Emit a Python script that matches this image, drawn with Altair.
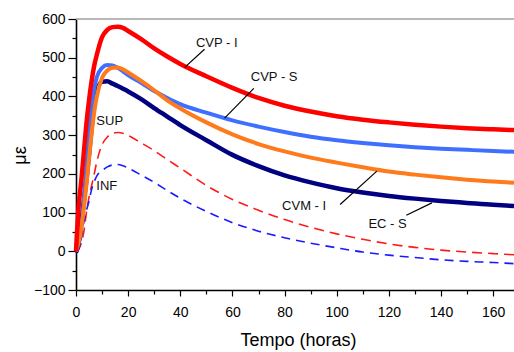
import altair as alt
import pandas as pd

# ---- data ----
hours = [0, 1, 2, 3, 4, 5, 6, 7, 8, 10, 12, 14, 16, 18, 20, 25, 30, 35, 40,
         50, 60, 70, 80, 90, 100, 110, 120, 130, 140, 150, 160, 168]

cvp_i = [0, 115, 180, 255, 330, 390, 440, 480, 508, 553, 572, 579, 580, 577, 569,
         548, 524, 503, 484, 452, 422, 396, 376, 361, 349, 340, 333, 327, 322, 318, 315, 313]
cvp_s = [0, 20, 60, 130, 220, 300, 370, 420, 450, 474, 481, 480, 474, 465, 455,
         435, 414, 396, 380, 358, 338, 322, 308, 296, 287, 280, 274, 269, 265, 262, 259, 257]
cvm_i = [0, 25, 60, 110, 170, 240, 305, 360, 400, 448, 467, 474, 475, 470, 462,
         440, 416, 390, 369, 333, 302, 277, 258, 242, 229, 217, 206, 198, 191, 185, 180, 177]
ec_s = [-3, 20, 70, 130, 185, 250, 320, 380, 415, 438, 439, 433, 427, 420, 413,
        393, 370, 348, 326, 287, 249, 220, 196, 178, 163, 152, 143, 136, 130, 125, 120, 117]
sup = [0, 5, 20, 50, 100, 140, 170, 200, 232, 275, 295, 304, 307, 305, 299,
       280, 260, 237, 215, 170, 134, 106, 82, 62, 45, 31, 19, 10, 3, -2, -6, -9]
inf = [-5, 10, 35, 75, 105, 130, 160, 180, 195, 208, 218, 223, 224, 221, 215,
       197, 178, 157, 137, 103, 74, 52, 35, 21, 9, -2, -10, -16, -22, -26, -29, -32]

series_names = ["SUP", "INF", "EC - S", "CVP - S", "CVM - I", "CVP - I"]
series_values = [sup, inf, ec_s, cvp_s, cvm_i, cvp_i]

# annotations (labels and leader lines)
label_text = ["CVP - I", "CVP - S", "CVM - I", "EC - S", "SUP", "INF"]
label_x = [54.0, 76.0, 87.5, 119.5, 7.8, 7.8]
label_y = [537, 450, 116, 70, 336, 169]
label_align = ["center", "center", "center", "center", "left", "left"]

leader_x = [49.3, 68.2, 101.3, 126.7]
leader_y = [522, 421, 121, 93]
leader_x2 = [41.7, 57.0, 115.4, 136.5]
leader_y2 = [475, 344, 207, 125]

x_major = [0, 20, 40, 60, 80, 100, 120, 140, 160]
x_minor = [10, 30, 50, 70, 90, 110, 130, 150]
y_major = [-100, 0, 100, 200, 300, 400, 500, 600]
y_minor = [-50, 50, 150, 250, 350, 450, 550]

# ---- styles ----
styles = {
    "SUP": dict(color="#ff1a1a", strokeWidth=1.6, strokeDash=[10, 6]),
    "INF": dict(color="#1a1aff", strokeWidth=1.6, strokeDash=[9, 6]),
    "EC - S": dict(color="#000080", strokeWidth=4.5),
    "CVP - S": dict(color="#3f6fff", strokeWidth=4),
    "CVM - I": dict(color="#ff7a1a", strokeWidth=4),
    "CVP - I": dict(color="#ff0000", strokeWidth=4.5),
}

FONT = "Liberation Sans"
xs = alt.Scale(domain=[0, 168], nice=False, zero=False)
ys = alt.Scale(domain=[-100, 600], nice=False, zero=False)

major_x_axis = alt.Axis(
    values=x_major, tickSize=6, labelPadding=9, labelFontSize=14, labelFont=FONT,
    labelColor="black", tickColor="black", domainColor="black", domainWidth=1.6,
    tickWidth=1.2, grid=False, title="Tempo (horas)", titleFont=FONT,
    titleFontSize=18, titleFontWeight="normal", titleColor="black",
    titleX=222, titleY=55, titleBaseline="alphabetic", orient="bottom",
    labelFlush=False, labelOverlap=False,
)
major_y_axis = alt.Axis(
    values=y_major, tickSize=8, labelPadding=3, labelFontSize=14, labelFont=FONT,
    labelColor="black", tickColor="black", domainColor="black", domainWidth=1.6,
    tickWidth=1.2, grid=False, title="με", titleFont=FONT, titleFontSize=18,
    titleFontWeight="normal", titleColor="black", titleAngle=270,
    titleX=-51, titleY=136, titleBaseline="alphabetic", orient="left",
    labelFlush=False, labelOverlap=False,
)
minor_x_axis = alt.Axis(values=x_minor, tickSize=4, labels=False, domain=False,
                        grid=False, title=None, tickColor="black", tickWidth=1.2,
                        orient="bottom")
minor_y_axis = alt.Axis(values=y_minor, tickSize=4, labels=False, domain=False,
                        grid=False, title=None, tickColor="black", tickWidth=1.2,
                        orient="left")

rows = []
for name, vals in zip(series_names, series_values):
    for h, v in zip(hours, vals):
        rows.append({"serie": name, "h": h, "v": v})
df = pd.DataFrame(rows)

line_layers = []
for i, name in enumerate(series_names):
    st = styles[name]
    mk = alt.Chart(df).transform_filter(alt.datum.serie == name).mark_line(
        interpolate="monotone", **st)
    if i == 0:
        enc = mk.encode(x=alt.X("h:Q", scale=xs, axis=major_x_axis),
                        y=alt.Y("v:Q", scale=ys, axis=major_y_axis))
    else:
        enc = mk.encode(x=alt.X("h:Q", scale=xs, axis=None),
                        y=alt.Y("v:Q", scale=ys, axis=None))
    line_layers.append(enc)

lab_df = pd.DataFrame({"t": label_text, "x": label_x, "y": label_y, "a": label_align})
text_center = alt.Chart(lab_df[lab_df.a == "center"]).mark_text(
    font=FONT, fontSize=13, color="#111111", align="center", baseline="middle"
).encode(x=alt.X("x:Q", scale=xs, axis=None), y=alt.Y("y:Q", scale=ys, axis=None), text="t:N")
text_left = alt.Chart(lab_df[lab_df.a == "left"]).mark_text(
    font=FONT, fontSize=13, color="#111111", align="left", baseline="middle"
).encode(x=alt.X("x:Q", scale=xs, axis=None), y=alt.Y("y:Q", scale=ys, axis=None), text="t:N")

lead_df = pd.DataFrame({"x": leader_x, "y": leader_y, "x2": leader_x2, "y2": leader_y2})
leaders = alt.Chart(lead_df).mark_rule(color="black", strokeWidth=1.2).encode(
    x=alt.X("x:Q", scale=xs, axis=None), y=alt.Y("y:Q", scale=ys, axis=None),
    x2="x2:Q", y2="y2:Q")

frame_df = pd.DataFrame({"x": [0], "x2": [168], "y": [600]})
top_rule = alt.Chart(frame_df).mark_rule(color="#a0a0a0", strokeWidth=1.5).encode(
    x=alt.X("x:Q", scale=xs, axis=minor_x_axis), x2="x2:Q",
    y=alt.Y("y:Q", scale=ys, axis=minor_y_axis))

chart = alt.layer(top_rule, *line_layers, leaders, text_center, text_left).resolve_axis(
    x="independent", y="independent").properties(
    width=438, height=271,
    autosize=alt.AutoSizeParams(type="none"),
    padding={"left": 76, "top": 19, "right": 0, "bottom": 62},
    background="white",
).configure_view(stroke=None)

chart.save("out.html", embed_options={"renderer": "svg", "actions": False})
